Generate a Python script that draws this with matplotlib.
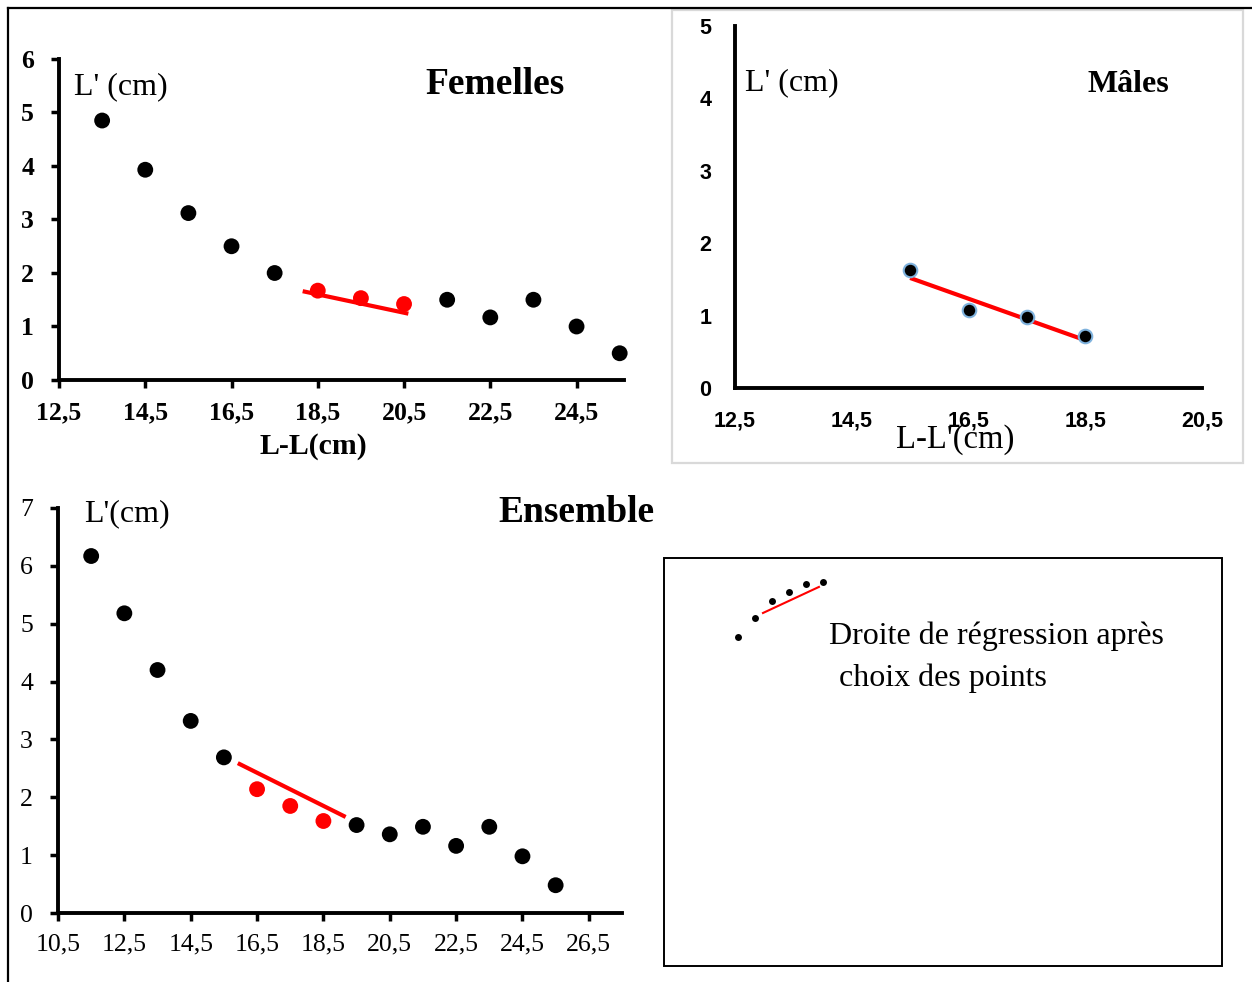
import matplotlib
matplotlib.use("Agg")
import matplotlib.pyplot as plt
from matplotlib.patches import Rectangle
from matplotlib.lines import Line2D

# ---------------- data ----------------
fem_x = [13.5, 14.5, 15.5, 16.5, 17.5, 18.5, 19.5, 20.5, 21.5, 22.5, 23.5, 24.5, 25.5]
fem_y = [4.85, 3.93, 3.12, 2.50, 2.00, 1.67, 1.53, 1.42, 1.50, 1.17, 1.50, 1.00, 0.50]
fem_red = [False, False, False, False, False, True, True, True, False, False, False, False, False]
fem_line_x = [18.15, 20.6]
fem_line_y = [1.66, 1.24]
fem_xticks = [12.5, 14.5, 16.5, 18.5, 20.5, 22.5, 24.5]
fem_xticklabels = ["12,5", "14,5", "16,5", "18,5", "20,5", "22,5", "24,5"]
fem_yticks = [0, 1, 2, 3, 4, 5, 6]

mal_x = [15.5, 16.5, 17.5, 18.5]
mal_y = [1.63, 1.08, 0.98, 0.72]
mal_line_x = [15.5, 18.5]
mal_line_y = [1.52, 0.66]
mal_xticks = [12.5, 14.5, 16.5, 18.5, 20.5]
mal_xticklabels = ["12,5", "14,5", "16,5", "18,5", "20,5"]
mal_yticks = [0, 1, 2, 3, 4, 5]

ens_x = [11.5, 12.5, 13.5, 14.5, 15.5, 16.5, 17.5, 18.5, 19.5, 20.5, 21.5, 22.5, 23.5, 24.5, 25.5]
ens_y = [6.17, 5.18, 4.20, 3.32, 2.69, 2.14, 1.85, 1.59, 1.52, 1.36, 1.49, 1.16, 1.49, 0.98, 0.48]
ens_red = [False, False, False, False, False, True, True, True, False, False, False, False, False, False, False]
ens_line_x = [15.92, 19.17]
ens_line_y = [2.59, 1.66]
ens_xticks = [10.5, 12.5, 14.5, 16.5, 18.5, 20.5, 22.5, 24.5, 26.5]
ens_xticklabels = ["10,5", "12,5", "14,5", "16,5", "18,5", "20,5", "22,5", "24,5", "26,5"]
ens_yticks = [0, 1, 2, 3, 4, 5, 6, 7]

icon_x = [0, 1, 2, 3, 4, 5]
icon_y = [0, 1.12, 2.12, 2.65, 3.12, 3.24]
icon_line_x = [1.47, 4.76]
icon_line_y = [1.41, 2.94]

# ---------------- layout helpers ----------------
W, H = 1252, 982
fig = plt.figure(figsize=(W / 100, H / 100), dpi=100)
SERIF = "Liberation Serif"
SANS = "Liberation Sans"


def rect(l, t, r, b):
    return [l / W, 1 - b / H, (r - l) / W, (b - t) / H]


def fx(px):
    return px / W


def fy(py):
    return 1 - py / H


# outer border lines
fig.add_artist(Line2D([fx(8), fx(1252)], [fy(8), fy(8)], color="black", lw=1.6))
fig.add_artist(Line2D([fx(8), fx(8)], [fy(8), fy(982)], color="black", lw=1.6))


def style_axes(ax):
    for s in ("top", "right"):
        ax.spines[s].set_visible(False)
    for s in ("left", "bottom"):
        ax.spines[s].set_linewidth(2.8)
        ax.spines[s].set_color("black")
    ax.set_facecolor("none")


# ---------------- Femelles ----------------
ax1 = fig.add_axes(rect(59, 59, 624, 380))
style_axes(ax1)
ax1.set_xlim(12.5, 25.6)
ax1.set_ylim(0, 6)
cols = ["red" if r else "black" for r in fem_red]
ax1.scatter(fem_x, fem_y, s=130, c=cols, zorder=3, clip_on=False, linewidths=0)
ax1.plot(fem_line_x, fem_line_y, color="red", lw=3, zorder=2, solid_capstyle="butt")
ax1.set_xticks(fem_xticks, fem_xticklabels, fontfamily=SERIF, fontweight="bold", fontsize=18.5)
ax1.set_yticks(fem_yticks, [str(v) for v in fem_yticks], fontfamily=SERIF, fontweight="bold", fontsize=18.5)
ax1.tick_params(axis="x", direction="out", length=6, width=2.5, pad=9)
ax1.tick_params(axis="y", direction="out", length=6, width=2.5, pad=12)
fig.text(fx(74), fy(87), "L' (cm)", fontfamily=SERIF, fontsize=23, va="center", ha="left")
fig.text(fx(425), fy(85), "Femelles", fontfamily=SERIF, fontweight="bold", fontsize=27, va="center", ha="left")
fig.text(fx(313), fy(447), "L-L(cm)", fontfamily=SERIF, fontweight="bold", fontsize=21.5, va="center", ha="center")

# ---------------- Mâles ----------------
fig.add_artist(Rectangle((fx(672), fy(463)), fx(1243) - fx(672), fy(10) - fy(463),
                         transform=fig.transFigure, fill=False, edgecolor="#d9d9d9", lw=1.6))
ax2 = fig.add_axes(rect(735, 26, 1202, 388))
style_axes(ax2)
ax2.set_xlim(12.5, 20.5)
ax2.set_ylim(0, 5)
ax2.plot(mal_line_x, mal_line_y, color="red", lw=3, zorder=2, solid_capstyle="butt")
ax2.scatter(mal_x, mal_y, s=95, c="black", edgecolors="#7fb2dd", linewidths=1.5, zorder=3, clip_on=False)
ax2.set_xticks(mal_xticks, mal_xticklabels, fontfamily=SANS, fontweight="bold", fontsize=15.5)
ax2.set_yticks(mal_yticks, [str(v) for v in mal_yticks], fontfamily=SANS, fontweight="bold", fontsize=15.5)
ax2.tick_params(axis="x", length=0, pad=16)
ax2.tick_params(axis="y", length=0, pad=17)
fig.text(fx(745), fy(83), "L' (cm)", fontfamily=SERIF, fontsize=23, va="center", ha="left")
fig.text(fx(1087), fy(84), "Mâles", fontfamily=SERIF, fontweight="bold", fontsize=23, va="center", ha="left")
fig.text(fx(955), fy(440), "L-L'(cm)", fontfamily=SERIF, fontsize=23.5, va="center", ha="center")

# ---------------- Ensemble ----------------
ax3 = fig.add_axes(rect(58, 508, 622, 913))
style_axes(ax3)
ax3.set_xlim(10.5, 27.5)
ax3.set_ylim(0, 7)
cols = ["red" if r else "black" for r in ens_red]
ax3.scatter(ens_x, ens_y, s=130, c=cols, zorder=3, clip_on=False, linewidths=0)
ax3.plot(ens_line_x, ens_line_y, color="red", lw=3, zorder=2, solid_capstyle="butt")
ax3.set_xticks(ens_xticks, ens_xticklabels, fontfamily=SERIF, fontsize=18.5)
ax3.set_yticks(ens_yticks, [str(v) for v in ens_yticks], fontfamily=SERIF, fontsize=18.5)
ax3.tick_params(axis="x", direction="out", length=6, width=2.5, pad=9)
ax3.tick_params(axis="y", direction="out", length=6, width=2.5, pad=12)
fig.text(fx(84), fy(514), "L'(cm)", fontfamily=SERIF, fontsize=23, va="center", ha="left")
fig.text(fx(498), fy(512), "Ensemble", fontfamily=SERIF, fontweight="bold", fontsize=27, va="center", ha="left")

# ---------------- legend box ----------------
fig.add_artist(Rectangle((fx(664), fy(966)), fx(1222) - fx(664), fy(558) - fy(966),
                         transform=fig.transFigure, fill=False, edgecolor="black", lw=1.4))
ax4 = fig.add_axes(rect(729.5, 574, 831.5, 645.5))
ax4.set_xlim(-0.5, 5.5)
ax4.set_ylim(-0.5, 3.7)
ax4.axis("off")
ax4.scatter(icon_x, icon_y, s=25, c="black", linewidths=0, zorder=3)
ax4.plot(icon_line_x, icon_line_y, color="red", lw=1.5, zorder=2)
fig.text(fx(829), fy(636), "Droite de régression après", fontfamily=SERIF, fontsize=23, va="center", ha="left")
fig.text(fx(839), fy(678), "choix des points", fontfamily=SERIF, fontsize=23, va="center", ha="left")

fig.savefig("out.png", dpi=100)
